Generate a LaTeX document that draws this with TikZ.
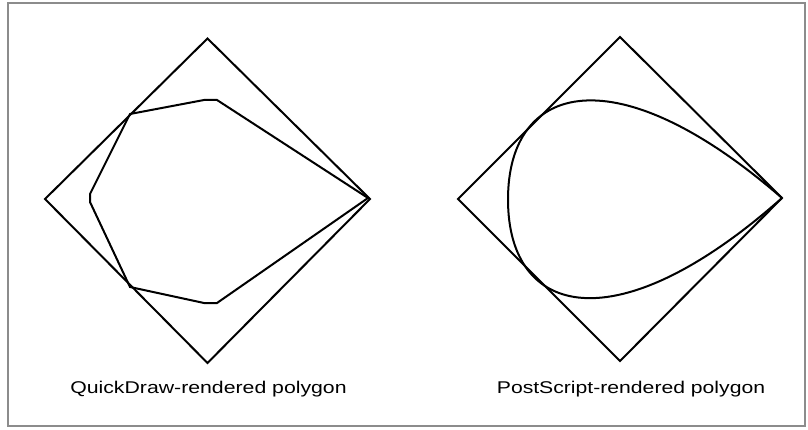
\documentclass[tikz,border=0pt]{standalone}
\usepackage{graphicx}
\usepackage{fontspec}
\setmainfont{Liberation Sans}
\tikzset{
  shape line/.style={draw=black, line width=2pt, line join=miter},
  caption/.style={anchor=base, inner sep=0pt, font=\fontsize{17}{20}\selectfont},
}
\begin{document}
\begin{tikzpicture}[x=1pt,y=-1pt]
\useasboundingbox (0,0) rectangle (808,430);
\fill[white] (0,0) rectangle (808,430);
\draw[draw=black!45, line width=1.5pt] (8,3) rectangle (805,426);

% left diamond
\coordinate (lt) at (207.5,38.5);
\coordinate (lr) at (370,199);
\coordinate (lb) at (207.5,363);
\coordinate (ll) at (45,199);
\draw[shape line] (lt) -- (lr) -- (lb) -- (ll) -- cycle;

% QuickDraw polygon
\coordinate (q1) at (368,198);
\coordinate (q2) at (217,100);
\coordinate (q3) at (204,100);
\coordinate (q4) at (130,114);
\coordinate (q5) at (90,194);
\coordinate (q6) at (90,202);
\coordinate (q7) at (130,287);
\coordinate (q8) at (204,303);
\coordinate (q9) at (217,303);
\draw[shape line] (q1) -- (q2) -- (q3) -- (q4) -- (q5) -- (q6) -- (q7) -- (q8) -- (q9) -- cycle;

% right diamond
\coordinate (rt) at (620,37);
\coordinate (rr) at (782,198);
\coordinate (rb) at (620,361);
\coordinate (rl) at (458,199);
\draw[shape line] (rt) -- (rr) -- (rb) -- (rl) -- cycle;

% PostScript curve
\coordinate (pl) at (508,199.5);
\draw[shape line] (rr) .. controls (616.5,54.5) and (508,81.5) .. (pl)
                       .. controls (508,317.5) and (616.5,344.5) .. (rr);

% captions
\node[caption] (capl) at (208.5,393) {\scalebox{1.25}[1]{QuickDraw-rendered polygon}};
\node[caption] (capr) at (631,393) {\scalebox{1.245}[1]{PostScript-rendered polygon}};
\end{tikzpicture}
\end{document}
